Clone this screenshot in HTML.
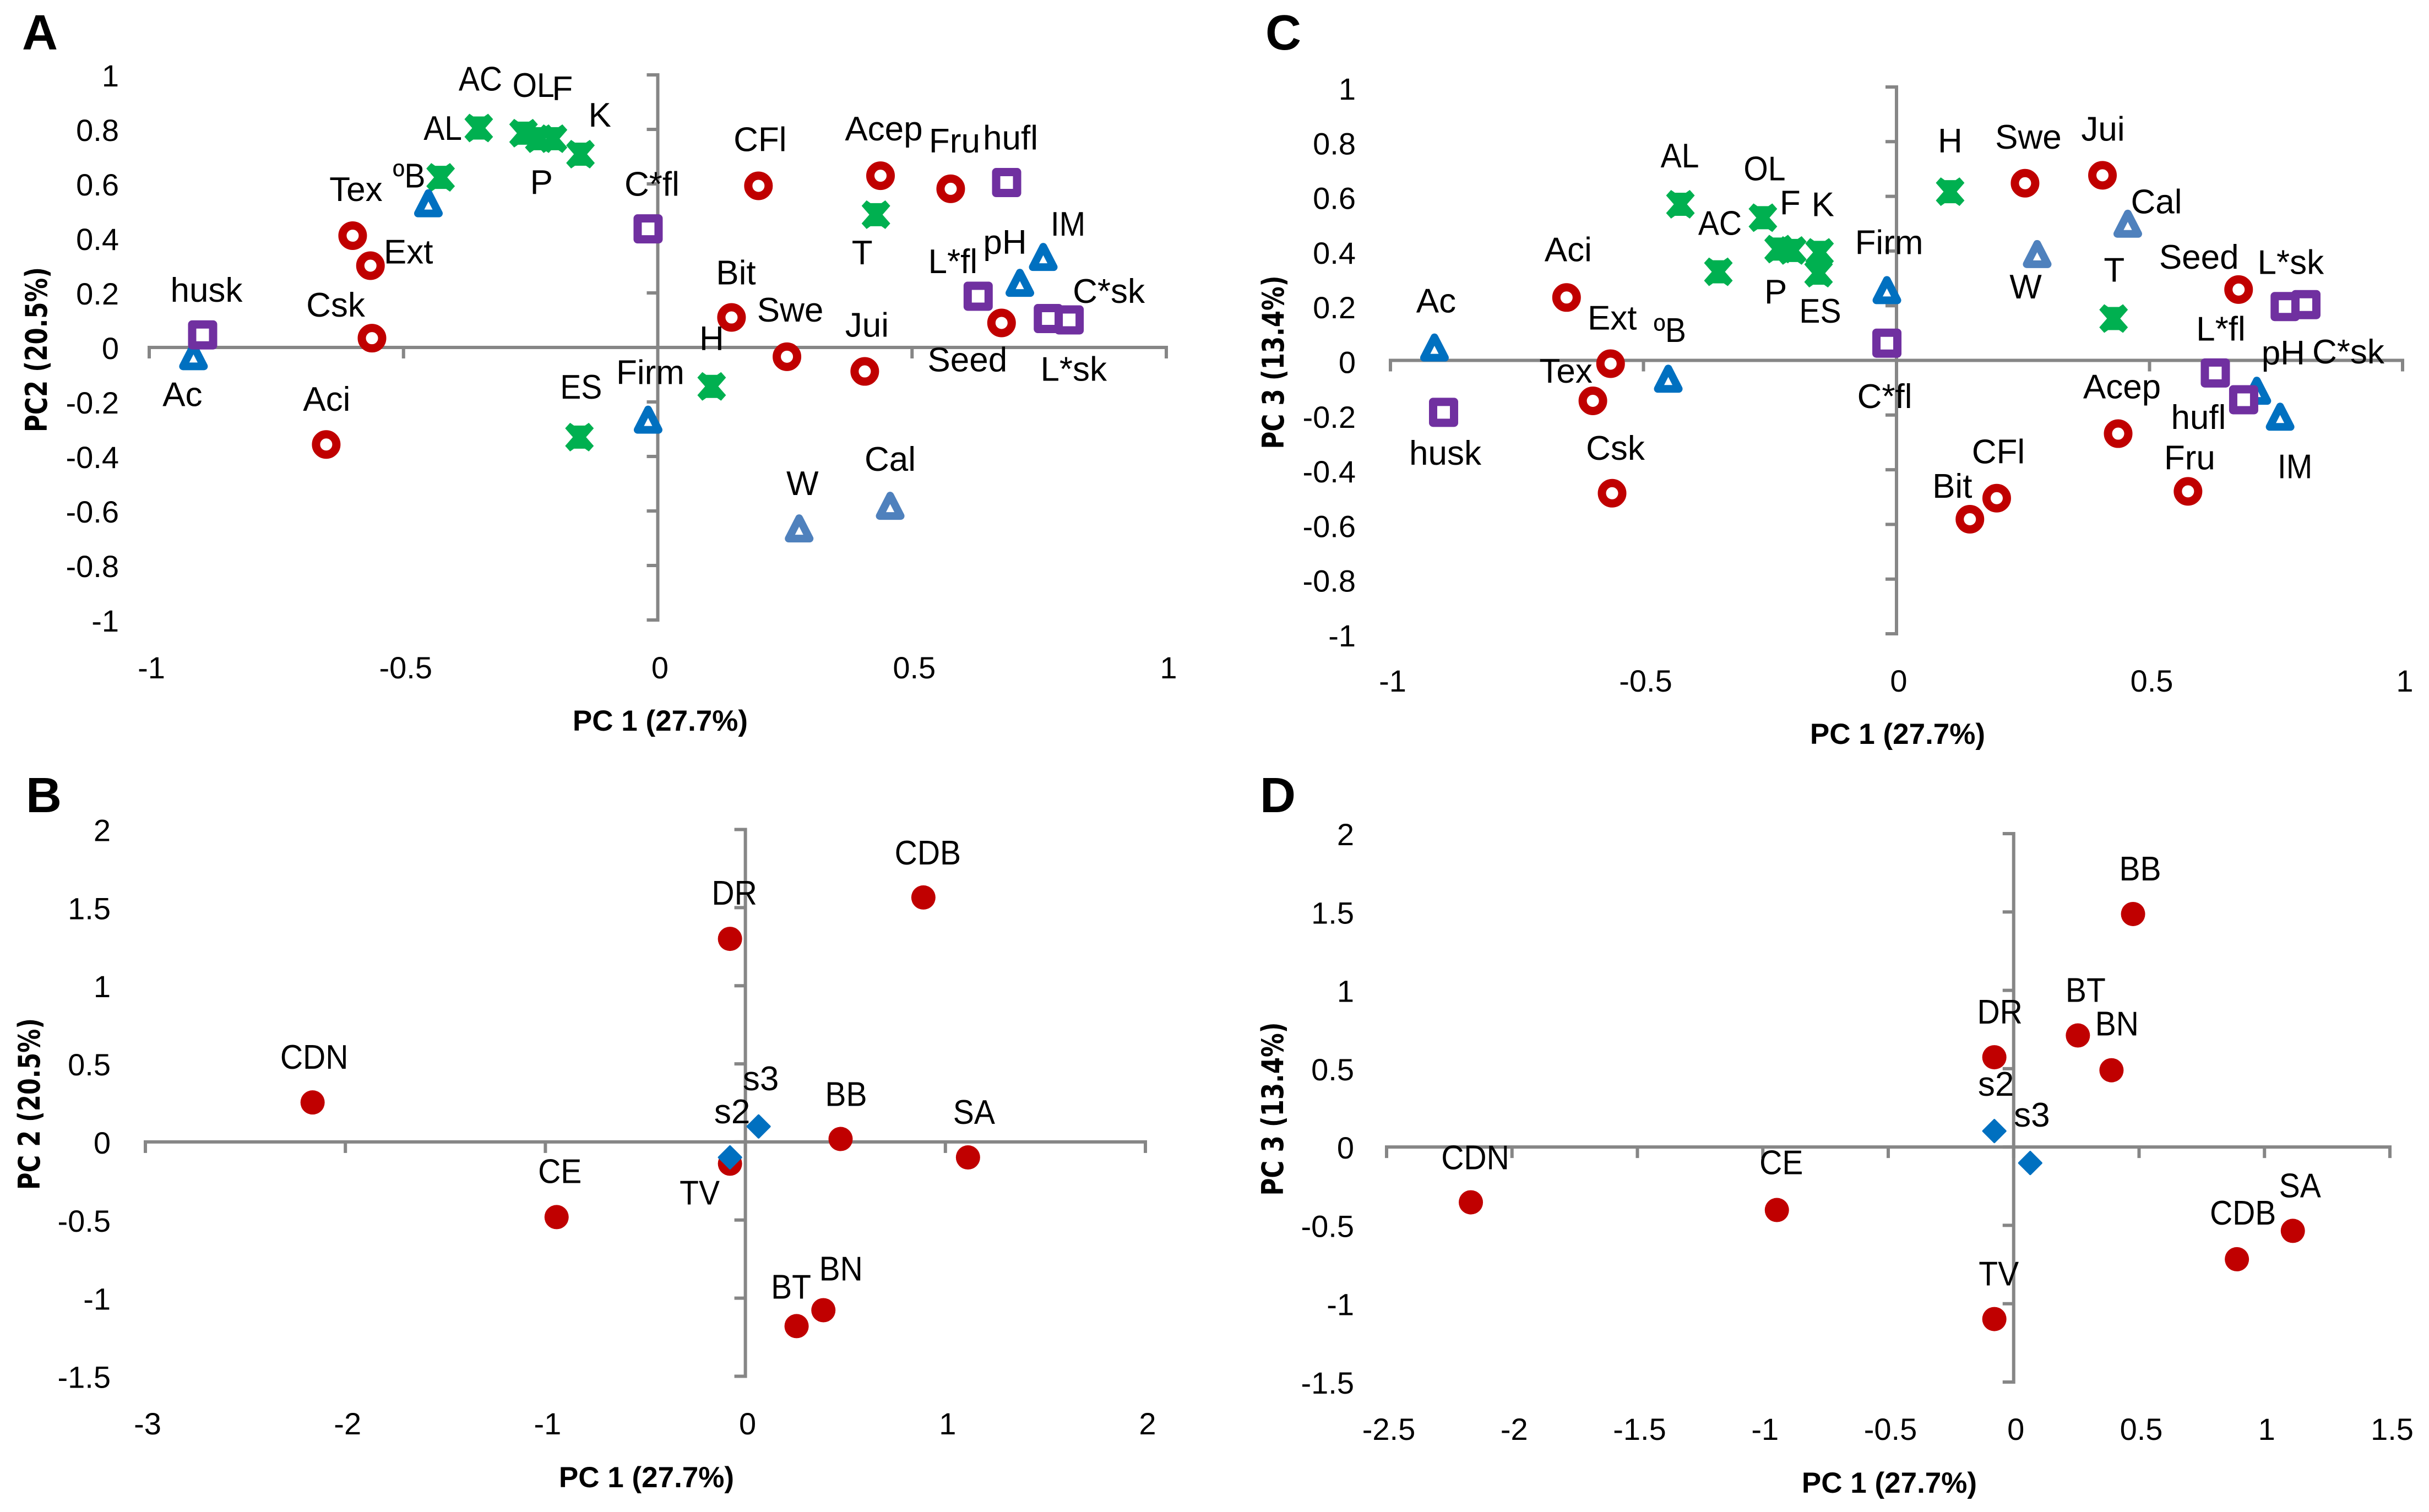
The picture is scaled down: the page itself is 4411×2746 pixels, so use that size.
<!DOCTYPE html>
<html lang="en">
<head>
<meta charset="utf-8">
<title>PCA loading and score plots</title>
<style>
html,body{margin:0;padding:0;background:#fff;}
svg{display:block;}
text{font-family:"Liberation Sans",sans-serif;fill:#000;}
.panel-letter{font-weight:700;font-size:90px;}
.x-title{font-weight:700;font-size:53px;text-anchor:middle;}
.y-title{font-family:"DejaVu Sans",sans-serif;font-weight:700;font-size:54px;text-anchor:middle;}
.tick{font-size:56px;}
.point-label{font-size:62px;text-anchor:middle;}
</style>
</head>
<body>
<svg id="chart" xmlns="http://www.w3.org/2000/svg" width="4411" height="2746" viewBox="0 0 4411 2746">
  <rect width="4411" height="2746" fill="#ffffff"/>
  <g id="panel-a"></g>
  <g id="panel-b"></g>
  <g id="panel-c"></g>
  <g id="panel-d"></g>

  <text class="panel-letter" x="40" y="90">A</text>
  <text class="panel-letter" x="47" y="1475">B</text>
  <text class="panel-letter" x="2298" y="90">C</text>
  <text class="panel-letter" x="2288" y="1475">D</text>

  <text class="x-title" x="1199" y="1327">PC 1 (27.7%)</text>
  <text class="x-title" x="1174" y="2701">PC 1 (27.7%)</text>
  <text class="x-title" x="3446" y="1351">PC 1 (27.7%)</text>
  <text class="x-title" x="3431" y="2711">PC 1 (27.7%)</text>

  <text class="y-title" transform="translate(85,635) rotate(-90)" textLength="300" lengthAdjust="spacingAndGlyphs">PC2 (20.5%)</text>
  <text class="y-title" transform="translate(72,2005) rotate(-90)" textLength="312" lengthAdjust="spacingAndGlyphs">PC 2 (20.5%)</text>
  <text class="y-title" transform="translate(2331,658) rotate(-90)" textLength="315" lengthAdjust="spacingAndGlyphs">PC 3 (13.4%)</text>
  <text class="y-title" transform="translate(2330,2014) rotate(-90)" textLength="315" lengthAdjust="spacingAndGlyphs">PC 3 (13.4%)</text>
</svg>

<script>
// ---- Loadings (panels A and C) ----
const sensoryNames = ["Tex","Ext","Csk","Aci","CFl","Acep","Fru","Bit","Swe","Jui","Seed"];
const sensoryPc1 = [-0.60,-0.565,-0.562,-0.652,0.198,0.438,0.576,0.145,0.254,0.407,0.676];
const sensoryPc2 = [0.41,0.30,0.034,-0.356,0.593,0.63,0.582,0.11,-0.034,-0.088,0.09];
const sensoryPc3 = [-0.148,-0.012,-0.486,0.23,-0.504,-0.268,-0.479,-0.581,0.648,0.677,0.259];

const compositionNames = ["AL","AC","OL","F","P","K","ES","H","T"];
const compositionPc1 = [-0.427,-0.352,-0.264,-0.233,-0.206,-0.152,-0.154,0.106,0.429];
const compositionPc2 = [0.624,0.805,0.786,0.766,0.766,0.709,-0.329,-0.143,0.487];
const compositionPc3 = [0.571,0.324,0.522,0.407,0.402,0.395,0.319,0.617,0.153];

const physicalNames = ["ºB","Ac","Firm","pH","IM"];
const physicalPc1 = [-0.451,-0.913,-0.019,0.712,0.758];
const physicalPc2 = [0.524,-0.037,-0.27,0.232,0.327];
const physicalPc3 = [-0.072,0.042,0.252,-0.116,-0.211];

const weightNames = ["W","Cal"];
const weightPc1 = [0.278,0.457];
const weightPc2 = [-0.669,-0.586];
const weightPc3 = [0.384,0.495];

const colourNames = ["husk","C*fl","hufl","L*fl","L*sk","C*sk"];
const colourPc1 = [-0.895,-0.019,0.686,0.63,0.768,0.809];
const colourPc2 = [0.046,0.435,0.605,0.188,0.106,0.101];
const colourPc3 = [-0.19,0.063,-0.144,-0.046,0.197,0.204];

// ---- Scores (panels B and D) ----
const sampleNames = ["CDN","CE","TV","DR","CDB","BB","SA","BT","BN"];
const samplePc1 = [-2.164,-0.944,-0.077,-0.077,0.89,0.476,1.113,0.256,0.39];
const samplePc2 = [0.253,-0.481,-0.139,1.30,1.565,0.019,-0.099,-1.179,-1.077];
const samplePc3 = [-0.353,-0.402,-1.098,0.573,-0.716,1.487,-0.535,0.712,0.49];

const seasonNames = ["s2","s3"];
const seasonPc1 = [-0.077,0.066];
const seasonPc2 = [-0.099,0.099];
const seasonPc3 = [0.102,-0.102];

// ---- Tick labels ----
const loadingXTicks = [-1,-0.5,0,0.5,1];
const loadingYTicks = [1,0.8,0.6,0.4,0.2,0,-0.2,-0.4,-0.6,-0.8,-1];
const scoreBXTicks = [-3,-2,-1,0,1,2];
const scoreBYTicks = [2,1.5,1,0.5,0,-0.5,-1,-1.5];
const scoreDXTicks = [-2.5,-2,-1.5,-1,-0.5,0,0.5,1,1.5];
const scoreDYTicks = [2,1.5,1,0.5,0,-0.5,-1,-1.5];

// ---- Layout only: label placement relative to its marker ----
const labelPlacementA = {
  "husk":[7,-60],"Ac":[-20,88],"Tex":[6,-63],"ºB":[-35,-31],"Ext":[69,-4],"Csk":[-66,-39],"Aci":[1,-61],
  "AL":[4,-68],"AC":[3,-68],"OL":[18,-66],"F":[42,-70],"P":[-21,100],"K":[35,-50],"C*fl":[7,-60],
  "CFl":[3,-63],"Acep":[6,-64],"Fru":[7,-66],"hufl":[7,-60],"T":[-25,90],"IM":[45,-41],"pH":[-27,-55],
  "L*fl":[-46,-42],"C*sk":[72,-31],"L*sk":[46,113],"Seed":[-62,88],"Bit":[8,-60],"Swe":[6,-64],
  "Jui":[4,-63],"H":[0,-66],"Firm":[4,-67],"ES":[3,-70],"W":[6,-63],"Cal":[0,-66]
};
const labelPlacementC = {
  "husk":[3,95],"Ac":[3,-66],"Aci":[3,-66],"Ext":[3,-62],"Tex":[-49,-33],"ºB":[3,-69],"Csk":[6,-61],
  "AL":[-1,-67],"AC":[3,-67],"OL":[3,-68],"F":[21,-63],"K":[6,-66],"P":[-30,96],"ES":[3,90],
  "Firm":[4,-68],"C*fl":[-4,118],"H":[0,-71],"Swe":[6,-63],"Jui":[1,-63],"Cal":[52,-21],"W":[-21,78],
  "T":[1,-67],"Seed":[-72,-38],"L*sk":[10,-59],"L*fl":[10,-59],"pH":[48,-50],"C*sk":[77,107],
  "Acep":[7,-64],"hufl":[-82,53],"IM":[27,109],"Fru":[3,-40],"CFl":[3,-63],"Bit":[-32,-39]
};
const labelPlacementB = {
  "CDN":[3,-61],"CE":[6,-62],"TV":[-55,74],"DR":[8,-62],"CDB":[8,-60],"BB":[10,-60],"SA":[11,-61],
  "BT":[-10,-50],"BN":[32,-54],"s2":[4,-62],"s3":[4,-66]
};
const labelPlacementD = {
  "CDN":[8,-60],"CE":[8,-65],"TV":[8,-61],"DR":[10,-61],"BB":[13,-61],"BT":[14,-61],"BN":[10,-63],
  "CDB":[11,-63],"SA":[13,-61],"s2":[3,-64],"s3":[3,-66]
};

const SVG_NS = "http://www.w3.org/2000/svg";
const AXIS_COLOR = "#868686";
const CAPS_CONDENSE = 0.92;

function slug(s) {
  return String(s).replace(/º/g, "deg-").replace(/\*/g, "-star-").replace(/\./g, "-").toLowerCase();
}

function create(parent, tag, attrs, name) {
  const el = document.createElementNS(SVG_NS, tag);
  for (const k in attrs) el.setAttribute(k, attrs[k]);
  
  
  parent.appendChild(el);
  return el;
}

function drawMarker(g, shape, px, py, color, name) {
  const t = "translate(" + px + "," + py + ")";
  if (shape === "ring") {
    create(g, "circle", {cx:px, cy:py, r:18.5, fill:"#fff", stroke:color, "stroke-width":15}, name);
  } else if (shape === "square") {
    create(g, "rect", {x:px-19, y:py-19, width:38, height:38, fill:"#fff", stroke:color, "stroke-width":15, "stroke-linejoin":"round"}, name);
  } else if (shape === "triangle") {
    create(g, "path", {transform:t, d:"M0,-21L19,16L-19,16Z", fill:"#fff", stroke:color, "stroke-width":14, "stroke-linejoin":"round"}, name);
  } else if (shape === "cross") {
    create(g, "path", {transform:t, d:"M-17,-26L-26,-16L-12,0L-26,16L-17,26L-10,21L10,21L17,26L26,16L12,0L26,-16L17,-26L10,-21L-10,-21Z", fill:color}, name);
  } else if (shape === "dot") {
    create(g, "circle", {cx:px, cy:py, r:22, fill:color}, name);
  } else if (shape === "diamond") {
    create(g, "path", {transform:t, d:"M0,-20L20,0L0,20L-20,0Z", fill:color, stroke:color, "stroke-width":4, "stroke-linejoin":"round"}, name);
  }
}

function drawPanel(cfg) {
  const g = document.getElementById(cfg.id);
  const sx = v => cfg.x0 + (v - cfg.xDomain[0]) / (cfg.xDomain[1] - cfg.xDomain[0]) * (cfg.x1 - cfg.x0);
  const sy = v => cfg.y0 + (v - cfg.yDomain[0]) / (cfg.yDomain[1] - cfg.yDomain[0]) * (cfg.y1 - cfg.y0);
  const ax = sx(0), ay = sy(0);

  create(g, "line", {x1:cfg.x0-3, x2:cfg.x1+3, y1:ay, y2:ay, stroke:AXIS_COLOR, "stroke-width":6}, "x-axis-line");
  create(g, "line", {x1:ax, x2:ax, y1:cfg.y0+3, y2:cfg.y1-3, stroke:AXIS_COLOR, "stroke-width":6}, "y-axis-line");

  cfg.xTicks.forEach(v => {
    const px = sx(v);
    create(g, "line", {x1:px, x2:px, y1:ay, y2:ay+20, stroke:AXIS_COLOR, "stroke-width":6}, "x-tick-mark");
    const t = create(g, "text", {class:"tick", x:px+4, y:cfg.xLabelY, "text-anchor":"middle"}, "x-tick-label");
    t.textContent = String(v);
  });
  cfg.yTicks.forEach(v => {
    const py = sy(v);
    create(g, "line", {x1:ax-20, x2:ax, y1:py, y2:py, stroke:AXIS_COLOR, "stroke-width":6}, "y-tick-mark");
    const t = create(g, "text", {class:"tick", x:cfg.yLabelX, y:py+cfg.yLabelDy, "text-anchor":"end"}, "y-tick-label");
    t.textContent = String(v);
  });

  cfg.series.forEach(s => {
    s.names.forEach((n, i) => {
      drawMarker(g, s.shape, sx(s.xs[i]), sy(s.ys[i]), s.color, "marker-" + slug(n));
    });
  });
  cfg.series.forEach(s => {
    s.names.forEach((n, i) => {
      const off = cfg.placement[n] || [0, -62];
      const t = create(g, "text", {class:"point-label", x:sx(s.xs[i]) + off[0], y:sy(s.ys[i]) + off[1]}, "label-" + slug(n));
      t.textContent = n;
      if (n === n.toUpperCase() && n.length > 1) {
        t.setAttribute("textLength", (t.getComputedTextLength() * CAPS_CONDENSE).toFixed(1));
        t.setAttribute("lengthAdjust", "spacingAndGlyphs");
      }
    });
  });
}

function loadingSeries(ysRing, ysCross, ysTri, ysWeight, ysSquare) {
  return [
    {names:sensoryNames, xs:sensoryPc1, ys:ysRing, shape:"ring", color:"#C00000"},
    {names:compositionNames, xs:compositionPc1, ys:ysCross, shape:"cross", color:"#00B050"},
    {names:physicalNames, xs:physicalPc1, ys:ysTri, shape:"triangle", color:"#0070C0"},
    {names:weightNames, xs:weightPc1, ys:ysWeight, shape:"triangle", color:"#4F81BD"},
    {names:colourNames, xs:colourPc1, ys:ysSquare, shape:"square", color:"#7030A0"}
  ];
}

drawPanel({
  id:"panel-a", x0:271, x1:2118, y0:1126, y1:136, xDomain:[-1,1], yDomain:[-1,1],
  xTicks:loadingXTicks, yTicks:loadingYTicks, xLabelY:1232, yLabelX:216, yLabelDy:21,
  series:loadingSeries(sensoryPc2, compositionPc2, physicalPc2, weightPc2, colourPc2),
  placement:labelPlacementA
});
drawPanel({
  id:"panel-c", x0:2525, x1:4363, y0:1151, y1:158, xDomain:[-1,1], yDomain:[-1,1],
  xTicks:loadingXTicks, yTicks:loadingYTicks, xLabelY:1256, yLabelX:2462, yLabelDy:23,
  series:loadingSeries(sensoryPc3, compositionPc3, physicalPc3, weightPc3, colourPc3),
  placement:labelPlacementC
});
drawPanel({
  id:"panel-b", x0:264, x1:2080, y0:2499.5, y1:1506.5, xDomain:[-3,2], yDomain:[-1.5,2],
  xTicks:scoreBXTicks, yTicks:scoreBYTicks, xLabelY:2605, yLabelX:201, yLabelDy:21,
  series:[
    {names:sampleNames, xs:samplePc1, ys:samplePc2, shape:"dot", color:"#C00000"},
    {names:seasonNames, xs:seasonPc1, ys:seasonPc2, shape:"diamond", color:"#0070C0"}
  ],
  placement:labelPlacementB
});
drawPanel({
  id:"panel-d", x0:2518, x1:4340, y0:2510, y1:1514, xDomain:[-2.5,1.5], yDomain:[-1.5,2],
  xTicks:scoreDXTicks, yTicks:scoreDYTicks, xLabelY:2615, yLabelX:2459, yLabelDy:21,
  series:[
    {names:sampleNames, xs:samplePc1, ys:samplePc3, shape:"dot", color:"#C00000"},
    {names:seasonNames, xs:seasonPc1, ys:seasonPc3, shape:"diamond", color:"#0070C0"}
  ],
  placement:labelPlacementD
});
</script>
</body>
</html>
